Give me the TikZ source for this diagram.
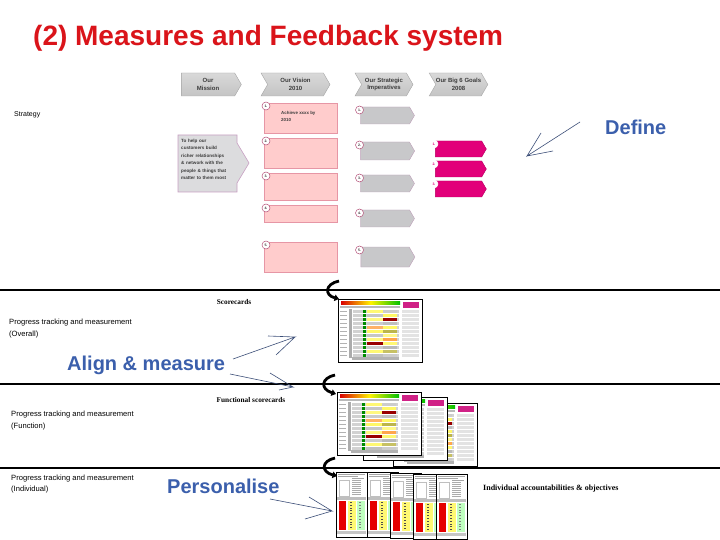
\documentclass[tikz,border=0pt]{standalone}
\usepackage{fontspec}
\setmainfont{Liberation Sans}
\newfontfamily\serifb{Liberation Serif}
\usetikzlibrary{shapes.symbols,arrows.meta}
\definecolor{titlered}{RGB}{218,20,26}
\definecolor{bigblue}{RGB}{59,95,172}
\definecolor{arrline}{RGB}{60,79,120}
\definecolor{hdrgray}{RGB}{196,196,196}
\definecolor{darktxt}{RGB}{60,60,60}
\definecolor{vispink}{RGB}{255,204,204}
\definecolor{visborder}{RGB}{230,150,165}
\definecolor{impgray}{RGB}{200,200,202}
\definecolor{impborder}{RGB}{190,160,185}
\definecolor{goalmag}{RGB}{226,0,122}
\definecolor{missgray}{RGB}{220,220,222}
\definecolor{missborder}{RGB}{200,160,195}
\definecolor{circborder}{RGB}{180,80,120}
\newcommand{\landcard}[2]{%
\begin{scope}[shift={(#1,#2)}]
 \fill[white] (0,0) rectangle (84,63);
 \shade[left color=red!85!black, right color=green!75!black, middle color=yellow!90!orange] (3,2.5) rectangle (62,5.5);
 \fill[magenta!85!black] (65,3) rectangle (81,9);
 \fill[gray!55] (2,6.5) rectangle (62,9);
 \fill[gray!65] (11,10) rectangle (14,59);
 \foreach \r/\c/\d in {0/yellow!55/gray!40,1/gray!45/yellow!60,2/yellow!50/red!60!black,3/gray!40/gray!50,4/orange!60/yellow!60,5/yellow!60/olive!60,6/gray!45/yellow!45,7/yellow!50/orange!70,8/red!60!black/yellow!55,9/gray!40/gray!55,10/yellow!55/olive!50,11/gray!50/gray!40}{
  \pgfmathsetmacro\yy{11+4*\r}
  \fill[gray!35] (15,\yy) rectangle (61,\yy+3);
  \fill[\c] (29,\yy+0.4) rectangle (45,\yy+2.6);
  \fill[\d] (45,\yy+0.4) rectangle (59,\yy+2.6);
  \fill[green!55!black] (25,\yy+0.3) rectangle (27.5,\yy+2.7);
  \fill[gray!60] (2,\yy+1) rectangle (9,\yy+1.7);
  \fill[gray!22] (64,\yy+0.3) rectangle (81,\yy+3);
 }
 \fill[gray!60] (14,58) rectangle (61,61);
 \draw[line width=0.9pt] (0,0) rectangle (84,63);
\end{scope}}
\newcommand{\portcard}[2]{%
\begin{scope}[shift={(#1,#2)}]
 \fill[white] (0,0) rectangle (31,65);
 \draw[gray!70, line width=0.4pt] (2,2) -- (29,2) (2,4) -- (22,4) (16,6) -- (28,6);
 \draw[gray!50, line width=0.3pt] (3,8) rectangle (13,24);
 \foreach \k in {0,...,7} \draw[gray!65, line width=0.4pt] (16,8+\k*2) -- (25,8+\k*2);
 \fill[gray!50] (1,25) rectangle (30,27.5);
 \fill[red!90!black] (3,29) rectangle (10,58);
 \fill[yellow!55] (12,29) rectangle (20,58);
 \fill[green!25] (21,29) rectangle (29,58);
 \foreach \k in {0,...,9} \fill[black!70] (14,30+\k*2.8) rectangle (16,30.8+\k*2.8);
 \foreach \k in {0,...,9} \fill[black!50] (23,30+\k*2.8) rectangle (25,30.8+\k*2.8);
 \fill[gray!45] (1,59) rectangle (30,62);
 \draw[line width=0.8pt] (0,0) rectangle (31,65);
\end{scope}}
\begin{document}
\begin{tikzpicture}[x=1pt,y=-1pt,
  hdr/.style={signal, signal to=east, signal pointer angle=120, draw=gray!70, top color=gray!30, bottom color=hdrgray, minimum height=23pt, inner sep=0pt, font=\fontsize{6}{7.5}\selectfont\bfseries, text=darktxt, align=center},
  visbox/.style={rectangle, draw=visborder, fill=vispink, minimum width=73pt, inner sep=0pt},
  impbox/.style={signal, signal to=east, signal pointer angle=120, draw=impborder, fill=impgray, minimum width=54pt, inner sep=0pt},
  goalbox/.style={signal, signal to=east, signal pointer angle=120, draw=goalmag!80!black, fill=goalmag, minimum width=51pt, minimum height=16pt, inner sep=0pt},
  numc/.style={circle, draw=circborder, fill=white, line width=0.5pt, minimum size=8pt, inner sep=0pt, font=\fontsize{3.5}{4}\selectfont\bfseries, text=darktxt},
  big/.style={font=\fontsize{20}{24}\selectfont\bfseries, text=bigblue, inner sep=0pt},
  small/.style={font=\fontsize{7.6}{9.5}\selectfont, inner sep=0pt, anchor=west},
  tag/.style={font=\serifb\fontsize{7.3}{9}\selectfont\bfseries, inner sep=0pt},
  thinarr/.style={draw=arrline, line width=0.6pt},
  curv/.style={line width=2.8pt, -{Triangle[length=4.5pt,width=6.5pt]}},
  rule/.style={line width=2pt}]
\useasboundingbox (0,0) rectangle (720,540);
\fill[white] (0,0) rectangle (720,540);
% title
\node[anchor=base west, inner sep=0pt, font=\fontsize{28}{32}\selectfont\bfseries, text=titlered] (title) at (33,46) {(2) Measures and Feedback system};
\node[anchor=west, inner sep=0pt, font=\fontsize{7}{8}\selectfont] (strategy) at (14,115) {Strategy};
% headers
\node[hdr, minimum width=60pt] (hm) at (208,84.5) {Our\\Mission};
\node[hdr, signal from=west, minimum width=69pt] (hv) at (295.5,84.5) {Our Vision\\2010};
\node[hdr, signal from=west, minimum width=58pt] (hs) at (384,84.5) {Our Strategic\\Imperatives};
\node[hdr, signal from=west, minimum width=58pt] (hg) at (458.5,84.5) {Our Big 6 Goals\\2008};
% mission
\draw[draw=missborder, fill=missgray, line width=0.6pt] (178,135) -- (237,135) -- (237,143) -- (249,163) -- (237,183) -- (237,192) -- (178,192) -- cycle;
\node[anchor=north west, inner sep=0pt, text width=56pt, align=left, font=\fontsize{4.6}{7.4}\selectfont\bfseries, text=darktxt] (mt) at (181,139) {To help our\\customers build\\richer relationships\\\& network with the\\people \& things that\\matter to them most};
% vision
\node[visbox, minimum height=30pt] (v1) at (300.5,118) {};
\node[visbox, minimum height=30pt] (v2) at (300.5,153) {};
\node[visbox, minimum height=27pt] (v3) at (300.5,186.5) {};
\node[visbox, minimum height=17pt] (v4) at (300.5,213.5) {};
\node[visbox, minimum height=30pt] (v5) at (300.5,257) {};
\node[anchor=north west, inner sep=0pt, align=left, font=\fontsize{4.4}{7}\selectfont\bfseries, text=darktxt] (v1t) at (281,111) {Achieve xxxx by\\2010};
\foreach \n/\y in {1/103,2/138,3/173,4/205,5/242}
  \node[numc] (vc\n) at (266,\y+3) {\n.};
% imperatives
\node[impbox, minimum height=17pt] (i1) at (385,115.5) {};
\node[impbox, minimum height=18pt] (i2) at (385,151) {};
\node[impbox, minimum height=17pt] (i3) at (385,183.5) {};
\node[impbox, minimum height=17pt] (i4) at (385,218.5) {};
\node[impbox, minimum height=20pt] (i5) at (385,257) {};
\foreach \n/\y in {1/107,2/142,3/175,4/210,5/247}
  \node[numc] (ic\n) at (359.5,\y+3) {\n.};
% goals
\node[goalbox] (g1) at (458.5,149) {};
\node[goalbox] (g2) at (458.5,169) {};
\node[goalbox] (g3) at (458.5,189) {};
\foreach \n/\y in {1/141,2/161,3/181}
  \node[numc, draw=white, text=goalmag] (gc\n) at (434,\y+3) {\n.};
% Define
\node[big, anchor=west] (define) at (605,127) {Define};
\coordinate (d0) at (580,122);
\coordinate (d1) at (527,156);
\coordinate (d2) at (541,133);
\coordinate (d3) at (553,151);
\draw[thinarr] (d0) -- (d1) -- (d2) (d1) -- (d3);
% rules
\draw[rule] (0,290) -- (720,290);
\draw[rule] (0,384) -- (720,384);
\draw[rule] (0,467.5) -- (720,467.5);
% texts
\node[tag] (sc) at (234,302) {Scorecards};
\node[small] (p1a) at (9,323) {Progress tracking and measurement};
\node[small] (p1b) at (9,335) {(Overall)};
\node[big, anchor=west] (align) at (67,365) {Align \& measure};
\node[tag] (fsc) at (251,400) {Functional scorecards};
\node[small] (p2a) at (11,415) {Progress tracking and measurement};
\node[small] (p2b) at (11,427) {(Function)};
\node[small] (p3a) at (11,479) {Progress tracking and measurement};
\node[small] (p3b) at (11,490) {(Individual)};
\node[big, anchor=west] (pers) at (167,486) {Personalise};
\node[tag, anchor=west, font=\serifb\fontsize{8}{9}\selectfont\bfseries] (ind) at (483,489) {Individual accountabilities \& objectives};
% align arrows
\coordinate (a0) at (233,359);
\coordinate (a1) at (295,337);
\coordinate (a2) at (268,336);
\coordinate (a3) at (276,355);
\draw[thinarr] (a0) -- (a1) -- (a2) (a1) -- (a3);
\coordinate (b0) at (230,374);
\coordinate (b1) at (293,387);
\coordinate (b2) at (270,373);
\coordinate (b3) at (279,390);
\draw[thinarr] (b0) -- (b1) -- (b2) (b1) -- (b3);
\coordinate (c0) at (270,499);
\coordinate (c1) at (332,511);
\coordinate (c2) at (309,497);
\coordinate (c3) at (305,519);
\draw[thinarr] (c0) -- (c1) -- (c2) (c1) -- (c3);
% cards
\landcard{338}{299}
\landcard{393}{403}
\landcard{363}{397}
\landcard{337}{392}
\portcard{336}{472}
\portcard{367}{472}
\portcard{390}{473}
\portcard{413}{474}
\portcard{436}{474}
% curved arrows
\draw[curv] (339,281) .. controls (325,284) and (324,295) .. (339,299);
\draw[curv] (335,375) .. controls (321,378) and (320,389) .. (336,394);
\draw[curv] (335,458) .. controls (321,461) and (321,472) .. (337,476);
\end{tikzpicture}
\end{document}
